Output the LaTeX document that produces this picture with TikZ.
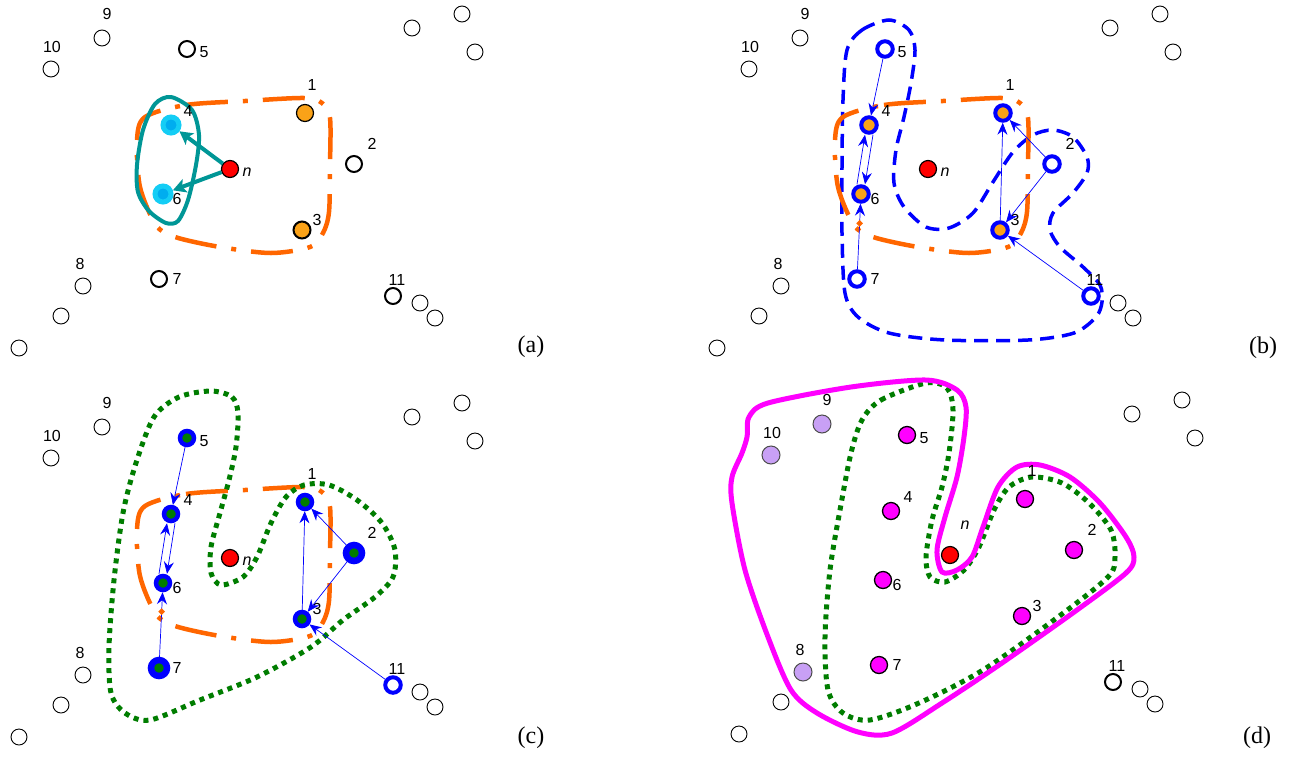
\documentclass[tikz,border=0pt]{standalone}
\usepackage{fontspec}
\setmainfont{Liberation Serif}
\setsansfont{Liberation Sans}
\usetikzlibrary{arrows.meta,shapes.geometric}

\begin{document}
\begin{tikzpicture}[x=1pt,y=-1pt]
%Farben
	\definecolor{randorange}{RGB}{255,102,0}
	\definecolor{fuellorange}{RGB}{250,162,24}
	\definecolor{tuerkis}{RGB}{0,150,150}
	\definecolor{hellcyan}{RGB}{20,205,245}
	\definecolor{blau}{RGB}{0,0,255}
	\definecolor{gruen}{RGB}{0,125,0}
	\definecolor{pink}{RGB}{255,0,255}
	\definecolor{lila}{RGB}{200,160,245}

%Stile
	\tikzset{
	leer/.style={circle,draw,line width=0.9pt,minimum size=16pt,inner sep=0pt,fill=white},
	fett/.style={leer,line width=2pt},
	rotknoten/.style={leer,minimum size=17pt,line width=1.2pt,fill=red},
	orangeknoten/.style={leer,minimum size=17pt,line width=1.2pt,fill=fuellorange},
	cyanknoten/.style={leer,minimum size=16pt,line width=5pt,draw=hellcyan,fill=cyan},
	blauring/.style={leer,minimum size=15.5pt,line width=4pt,draw=blau},
	blauorange/.style={blauring,fill=fuellorange},
	gruenknoten/.style={leer,minimum size=14pt,line width=4.5pt,draw=blau,fill=gruen},
	gruengross/.style={gruenknoten,minimum size=16pt,line width=6.5pt},
	pinkknoten/.style={leer,minimum size=17pt,line width=1.3pt,fill=pink},
	lilaknoten/.style={leer,minimum size=18pt,line width=1pt,draw=black!70,fill=lila},
	zahl/.style={font=\sffamily\fontsize{16}{16}\selectfont,inner sep=0pt},
	nname/.style={zahl,font=\sffamily\itshape\fontsize{16}{16}\selectfont},
	panel/.style={font=\fontsize{24}{24}\selectfont,inner sep=0pt},
	orangerand/.style={draw=randorange,line width=4.5pt,dash pattern=on 42pt off 15pt on 5pt off 15pt},
	blaurand/.style={draw=blau,line width=3.5pt,dash pattern=on 14pt off 8pt},
	gruenrand/.style={draw=gruen,line width=5pt,dash pattern=on 5pt off 5pt},
	pinkrand/.style={draw=pink,line width=5pt},
	tuerkisrand/.style={draw=tuerkis,line width=4pt},
	tuerkispfeil/.style={draw=tuerkis,line width=4pt,-{Stealth[length=13pt,width=14pt,inset=3pt]}},
	pfeil/.style={draw=blau,line width=0.7pt,-{Stealth[length=12pt,width=10pt,inset=4pt]}},
	raute/.style={diamond,fill=randorange,inner sep=0pt,minimum size=7pt}}

	\useasboundingbox (0,0) rectangle (1291,756);

%Lage der Knoten: Nr/x/y/Versatz der Zahl
	\def\punkte{1/305/113/7/-28, 2/354/164/18/-20, 3/302/230/15/-10, 4/171/125/17/-14, 5/187/49/17/3, 6/163/194/14/5, 7/159/279/18/0, 8/83/286/-3/-22, 9/102/38/5/-24, 10/51/69/1/-22, 11/393/296/4/-16}
	\def\rest{412/28, 462/14, 475/52, 420/303, 435/318, 61/316, 19/348}

%(a)
	\begin{scope}[k1/.style=orangeknoten, k2/.style=fett, k3/.style={orangeknoten,line width=2pt}, k4/.style=cyanknoten, k5/.style=fett, k6/.style=cyanknoten, k7/.style=fett, k8/.style=leer, k9/.style=leer, k10/.style=leer, k11/.style=fett]
	\draw[orangerand] plot[smooth cycle] coordinates {(145,117) (186,105) (245,101) (304,98) (322,103) (330,118) (330,165) (329,212) (323,233) (310,247) (271,253) (220,247) (175,237) (156,225) (140,187) (137,140)};
	\draw[tuerkisrand] plot[smooth cycle] coordinates {(171,97) (192,110) (199,135) (196,165) (188,200) (178,221) (166,223) (149,211) (138,192) (137,165) (143,130) (155,104)};
	\foreach \nr/\x/\y/\dx/\dy in \punkte {
		\node[k\nr] (a\nr) at (\x,\y) {};
		\node[zahl] (al\nr) at ([shift={(\dx,\dy)}]a\nr) {\nr};
	}
	\foreach \x/\y [count=\i] in \rest
		\node[leer] (ar\i) at (\x,\y) {};
	\node[rotknoten] (an) at (230,169) {};
	\node[nname] (aln) at ([shift={(17,3)}]an) {n};
	\draw[tuerkispfeil] (an) -- (a4);
	\draw[tuerkispfeil] (an) -- (a6);
	\node[panel] (pa) at (531,347) {(a)};
	\end{scope}

%(b)
	\begin{scope}[shift={(698,0)}, k1/.style=blauorange, k2/.style=blauring, k3/.style=blauorange, k4/.style=blauorange, k5/.style=blauring, k6/.style=blauorange, k7/.style=blauring, k8/.style=leer, k9/.style=leer, k10/.style=leer, k11/.style=blauring]
	\draw[blaurand] plot[smooth cycle] coordinates {(149,50) (164,30) (191,20) (211,30) (217,50) (213,83) (206,117) (198,150) (196,183) (206,207) (228,227) (251,228) (275,213) (295,182) (315,152) (335,135) (355,130) (375,137) (389,157) (389,173) (375,193) (355,213) (352,230) (362,247) (385,267) (402,285) (404,302) (398,317) (376,333) (330,340) (247,340) (191,333) (160,317) (147,293) (144,233) (144,167) (145,100)};
	\draw[orangerand] plot[smooth cycle] coordinates {(145,117) (186,105) (245,101) (304,98) (322,103) (330,118) (330,165) (329,212) (323,233) (310,247) (271,253) (220,247) (175,237) (156,225) (140,187) (137,140)};
	\foreach \nr/\x/\y/\dx/\dy in \punkte {
		\node[k\nr] (b\nr) at (\x,\y) {};
		\node[zahl] (bl\nr) at ([shift={(\dx,\dy)}]b\nr) {\nr};
	}
	\foreach \x/\y [count=\i] in \rest
		\node[leer] (br\i) at (\x,\y) {};
	\node[rotknoten] (bn) at (230,169) {};
	\node[nname] (bln) at ([shift={(17,3)}]bn) {n};
	%Pfeile
	\draw[pfeil] (b5) -- (b4);
	\draw[pfeil] ([xshift=-4pt]b6.north) -- ([xshift=-4pt]b4.south);
	\draw[pfeil] ([xshift=4pt]b4.south) -- ([xshift=4pt]b6.north);
	\draw[pfeil] (b7) -- node[raute,pos=0.7] (bd) {} (b6);
	\draw[pfeil] (b3) -- (b1);
	\draw[pfeil] (b2) -- (b1);
	\draw[pfeil] (b2) -- (b3);
	\draw[pfeil] (b11) -- (b3);
	\node[panel] (pb) at (565,348) {(b)};
	\end{scope}

%(c)
	\begin{scope}[shift={(0,389)}, k1/.style=gruenknoten, k2/.style=gruengross, k3/.style=gruenknoten, k4/.style=gruenknoten, k5/.style=gruenknoten, k6/.style=gruenknoten, k7/.style=gruengross, k8/.style=leer, k9/.style=leer, k10/.style=leer, k11/.style=blauring]
	\draw[orangerand] plot[smooth cycle] coordinates {(145,117) (186,105) (245,101) (304,98) (322,103) (330,118) (330,165) (329,212) (323,233) (310,247) (271,253) (220,247) (175,237) (156,225) (140,187) (137,140)};
	\draw[gruenrand] plot[smooth cycle] coordinates {(211,2) (232,8) (238,24) (236,58) (229,91) (220,124) (211,158) (211,184) (221,196) (243,188) (257,168) (271,134) (286,108) (304,96) (329,96) (357,111) (382,134) (395,161) (393,188) (375,208) (343,231) (311,258) (257,288) (200,311) (150,331) (125,324) (111,304) (109,258) (114,191) (123,124) (136,74) (154,28) (179,8)};
	\foreach \nr/\x/\y/\dx/\dy in \punkte {
		\node[k\nr] (c\nr) at (\x,\y) {};
		\node[zahl] (cl\nr) at ([shift={(\dx,\dy)}]c\nr) {\nr};
	}
	\foreach \x/\y [count=\i] in \rest
		\node[leer] (cr\i) at (\x,\y) {};
	\node[rotknoten] (cn) at (230,169) {};
	\node[nname] (cln) at ([shift={(17,3)}]cn) {n};
	%Pfeile
	\draw[pfeil] (c5) -- (c4);
	\draw[pfeil] ([xshift=-4pt]c6.north) -- ([xshift=-4pt]c4.south);
	\draw[pfeil] ([xshift=4pt]c4.south) -- ([xshift=4pt]c6.north);
	\draw[pfeil] (c7) -- node[raute,pos=0.7] (cd) {} (c6);
	\draw[pfeil] (c3) -- (c1);
	\draw[pfeil] (c2) -- (c1);
	\draw[pfeil] (c2) -- (c3);
	\draw[pfeil] (c11) -- (c3);
	\node[panel] (pc) at (531,349) {(c)};
	\end{scope}

%(d)
	\begin{scope}[shift={(720,386)}, k1/.style=pinkknoten, k2/.style=pinkknoten, k3/.style=pinkknoten, k4/.style=pinkknoten, k5/.style=pinkknoten, k6/.style=pinkknoten, k7/.style=pinkknoten, k8/.style=lilaknoten, k9/.style=lilaknoten, k10/.style=lilaknoten, k11/.style=fett]
	\draw[gruenrand] plot[smooth cycle] coordinates {(142,34) (161,14) (206,-3) (227,2) (233,24) (229,67) (222,101) (212,134) (206,171) (210,191) (225,196) (244,184) (259,161) (274,124) (289,101) (312,91) (342,97) (369,117) (391,144) (395,171) (388,191) (338,231) (263,284) (199,317) (150,334) (123,327) (108,304) (105,251) (110,184) (120,124) (131,67)};
	\draw[pinkrand] plot[smooth cycle] coordinates {(29,31) (48,17) (131,1) (206,-6) (237,4) (246,21) (244,51) (237,91) (225,131) (217,164) (222,186) (237,184) (252,171) (263,141) (278,101) (297,81) (320,79) (350,91) (380,117) (406,151) (414,171) (406,187) (357,224) (282,277) (222,317) (172,347) (138,346) (97,327) (71,304) (48,251) (25,184) (12,117) (12,91) (22,67) (27,51)};
	\foreach \nr/\x/\y/\dx/\dy in \punkte {
		\node[k\nr] (d\nr) at (\x,\y) {};
		\node[zahl] (dl\nr) at ([shift={(\dx,\dy)}]d\nr) {\nr};
	}
	\foreach \x/\y [count=\i] in \rest
		\node[leer] (dr\i) at (\x,\y) {};
	\node[rotknoten] (dn) at (230,169) {};
	\node[nname] (dln) at ([shift={(15,-30)}]dn) {n};
	\node[panel] (pd) at (537,352) {(d)};
	\end{scope}
\end{tikzpicture}
\end{document}
